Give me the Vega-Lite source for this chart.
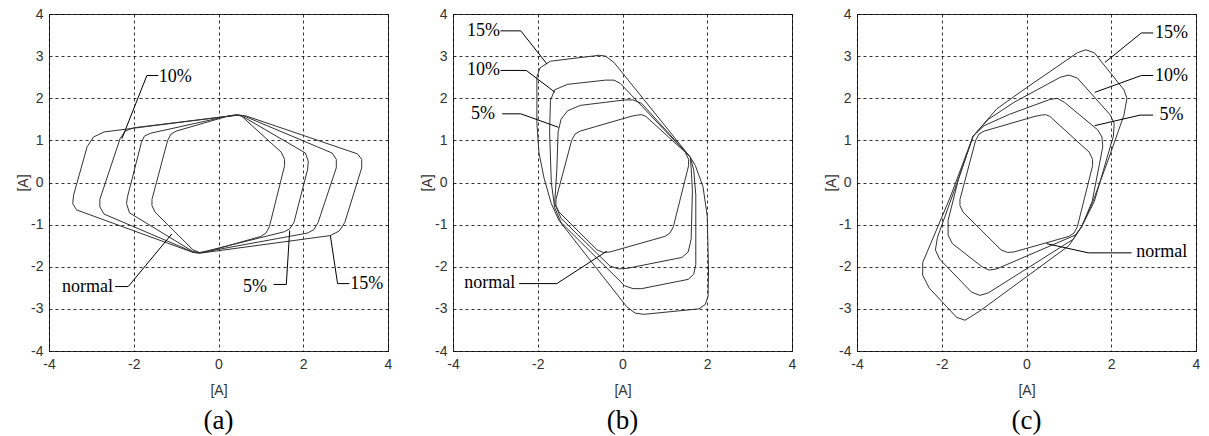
{
  "$schema": "https://vega.github.io/schema/vega-lite/v6.json",
  "background": "white",
  "padding": {"left": 16, "top": 6, "right": 4, "bottom": 0},
  "spacing": 65,
  "bounds": "flush",
  "config": {
    "view": {"stroke": "#333", "strokeWidth": 1},
    "axis": {"labelFont": "Liberation Sans", "labelFontSize": 14, "labelColor": "#333", "titleFont": "Liberation Sans", "titleFontSize": 14, "titleFontWeight": "normal", "titleColor": "#333", "domain": false, "ticks": false, "tickSize": 0, "grid": true, "gridColor": "#000", "gridDash": [3, 3], "gridOpacity": 1, "gridWidth": 0.8, "labelFlush": false, "labelExpr": "'' + datum.value"},
    "axisY": {"titlePadding": 0, "labelPadding": 6},
    "axisX": {"titlePadding": 12, "labelPadding": 6},
    "title": {"font": "Liberation Serif", "fontSize": 27, "fontWeight": "normal", "color": "#000", "orient": "bottom", "offset": 11, "anchor": "middle"}
  },
  "datasets": {
    "loops": [
      {"panel":"a","series":"normal","ord":1,"x":0.35,"y":1.6},{"panel":"a","series":"normal","ord":2,"x":0.2,"y":1.57},{"panel":"a","series":"normal","ord":3,"x":-1.0,"y":1.22},{"panel":"a","series":"normal","ord":4,"x":-1.12,"y":1.15},{"panel":"a","series":"normal","ord":5,"x":-1.2,"y":1.0},{"panel":"a","series":"normal","ord":6,"x":-1.57,"y":-0.4},{"panel":"a","series":"normal","ord":7,"x":-1.57,"y":-0.55},{"panel":"a","series":"normal","ord":8,"x":-1.5,"y":-0.7},{"panel":"a","series":"normal","ord":9,"x":-0.6,"y":-1.6},{"panel":"a","series":"normal","ord":10,"x":-0.45,"y":-1.66},{"panel":"a","series":"normal","ord":11,"x":-0.3,"y":-1.65},{"panel":"a","series":"normal","ord":12,"x":1.0,"y":-1.28},{"panel":"a","series":"normal","ord":13,"x":1.12,"y":-1.2},{"panel":"a","series":"normal","ord":14,"x":1.2,"y":-1.05},{"panel":"a","series":"normal","ord":15,"x":1.56,"y":0.4},{"panel":"a","series":"normal","ord":16,"x":1.56,"y":0.55},{"panel":"a","series":"normal","ord":17,"x":1.48,"y":0.72},{"panel":"a","series":"normal","ord":18,"x":0.55,"y":1.57},{"panel":"a","series":"normal","ord":19,"x":0.45,"y":1.61},{"panel":"a","series":"normal","ord":20,"x":0.35,"y":1.6},
      {"panel":"a","series":"5%","ord":1,"x":0.4,"y":1.6},{"panel":"a","series":"5%","ord":2,"x":0.2,"y":1.57},{"panel":"a","series":"5%","ord":3,"x":-1.6,"y":1.17},{"panel":"a","series":"5%","ord":4,"x":-1.75,"y":1.1},{"panel":"a","series":"5%","ord":5,"x":-1.82,"y":0.95},{"panel":"a","series":"5%","ord":6,"x":-2.15,"y":-0.35},{"panel":"a","series":"5%","ord":7,"x":-2.17,"y":-0.5},{"panel":"a","series":"5%","ord":8,"x":-2.1,"y":-0.72},{"panel":"a","series":"5%","ord":9,"x":-0.6,"y":-1.64},{"panel":"a","series":"5%","ord":10,"x":-0.45,"y":-1.67},{"panel":"a","series":"5%","ord":11,"x":1.55,"y":-1.17},{"panel":"a","series":"5%","ord":12,"x":1.68,"y":-1.1},{"panel":"a","series":"5%","ord":13,"x":1.78,"y":-0.95},{"panel":"a","series":"5%","ord":14,"x":2.1,"y":0.3},{"panel":"a","series":"5%","ord":15,"x":2.12,"y":0.5},{"panel":"a","series":"5%","ord":16,"x":2.05,"y":0.7},{"panel":"a","series":"5%","ord":17,"x":0.55,"y":1.58},{"panel":"a","series":"5%","ord":18,"x":0.4,"y":1.6},
      {"panel":"a","series":"10%","ord":1,"x":0.45,"y":1.6},{"panel":"a","series":"10%","ord":2,"x":0.2,"y":1.57},{"panel":"a","series":"10%","ord":3,"x":-2.0,"y":1.3},{"panel":"a","series":"10%","ord":4,"x":-2.2,"y":1.22},{"panel":"a","series":"10%","ord":5,"x":-2.32,"y":1.05},{"panel":"a","series":"10%","ord":6,"x":-2.8,"y":-0.4},{"panel":"a","series":"10%","ord":7,"x":-2.8,"y":-0.58},{"panel":"a","series":"10%","ord":8,"x":-2.7,"y":-0.75},{"panel":"a","series":"10%","ord":9,"x":-0.6,"y":-1.65},{"panel":"a","series":"10%","ord":10,"x":-0.45,"y":-1.67},{"panel":"a","series":"10%","ord":11,"x":2.1,"y":-1.2},{"panel":"a","series":"10%","ord":12,"x":2.25,"y":-1.12},{"panel":"a","series":"10%","ord":13,"x":2.35,"y":-0.95},{"panel":"a","series":"10%","ord":14,"x":2.78,"y":0.35},{"panel":"a","series":"10%","ord":15,"x":2.78,"y":0.55},{"panel":"a","series":"10%","ord":16,"x":2.68,"y":0.7},{"panel":"a","series":"10%","ord":17,"x":0.6,"y":1.58},{"panel":"a","series":"10%","ord":18,"x":0.45,"y":1.6},
      {"panel":"a","series":"15%","ord":1,"x":0.5,"y":1.6},{"panel":"a","series":"15%","ord":2,"x":0.2,"y":1.57},{"panel":"a","series":"15%","ord":3,"x":-2.7,"y":1.2},{"panel":"a","series":"15%","ord":4,"x":-2.95,"y":1.08},{"panel":"a","series":"15%","ord":5,"x":-3.1,"y":0.85},{"panel":"a","series":"15%","ord":6,"x":-3.42,"y":-0.3},{"panel":"a","series":"15%","ord":7,"x":-3.44,"y":-0.5},{"panel":"a","series":"15%","ord":8,"x":-3.35,"y":-0.65},{"panel":"a","series":"15%","ord":9,"x":-0.6,"y":-1.66},{"panel":"a","series":"15%","ord":10,"x":-0.45,"y":-1.68},{"panel":"a","series":"15%","ord":11,"x":2.64,"y":-1.26},{"panel":"a","series":"15%","ord":12,"x":2.85,"y":-1.15},{"panel":"a","series":"15%","ord":13,"x":2.98,"y":-0.95},{"panel":"a","series":"15%","ord":14,"x":3.38,"y":0.35},{"panel":"a","series":"15%","ord":15,"x":3.38,"y":0.55},{"panel":"a","series":"15%","ord":16,"x":3.28,"y":0.68},{"panel":"a","series":"15%","ord":17,"x":0.65,"y":1.58},{"panel":"a","series":"15%","ord":18,"x":0.5,"y":1.6},

      {"panel":"b","series":"normal","ord":1,"x":0.35,"y":1.6},{"panel":"b","series":"normal","ord":2,"x":0.2,"y":1.57},{"panel":"b","series":"normal","ord":3,"x":-1.0,"y":1.22},{"panel":"b","series":"normal","ord":4,"x":-1.12,"y":1.15},{"panel":"b","series":"normal","ord":5,"x":-1.2,"y":1.0},{"panel":"b","series":"normal","ord":6,"x":-1.57,"y":-0.4},{"panel":"b","series":"normal","ord":7,"x":-1.57,"y":-0.55},{"panel":"b","series":"normal","ord":8,"x":-1.5,"y":-0.7},{"panel":"b","series":"normal","ord":9,"x":-0.6,"y":-1.6},{"panel":"b","series":"normal","ord":10,"x":-0.45,"y":-1.66},{"panel":"b","series":"normal","ord":11,"x":-0.3,"y":-1.65},{"panel":"b","series":"normal","ord":12,"x":1.0,"y":-1.28},{"panel":"b","series":"normal","ord":13,"x":1.12,"y":-1.2},{"panel":"b","series":"normal","ord":14,"x":1.2,"y":-1.05},{"panel":"b","series":"normal","ord":15,"x":1.56,"y":0.4},{"panel":"b","series":"normal","ord":16,"x":1.56,"y":0.55},{"panel":"b","series":"normal","ord":17,"x":1.48,"y":0.72},{"panel":"b","series":"normal","ord":18,"x":0.55,"y":1.57},{"panel":"b","series":"normal","ord":19,"x":0.45,"y":1.61},{"panel":"b","series":"normal","ord":20,"x":0.35,"y":1.6},
      {"panel":"b","series":"5%","ord":1,"x":1.6,"y":0.6},{"panel":"b","series":"5%","ord":2,"x":0.45,"y":1.88},{"panel":"b","series":"5%","ord":3,"x":0.25,"y":1.96},{"panel":"b","series":"5%","ord":4,"x":0.05,"y":1.96},{"panel":"b","series":"5%","ord":5,"x":-1.0,"y":1.83},{"panel":"b","series":"5%","ord":6,"x":-1.3,"y":1.7},{"panel":"b","series":"5%","ord":7,"x":-1.45,"y":1.5},{"panel":"b","series":"5%","ord":8,"x":-1.52,"y":1.2},{"panel":"b","series":"5%","ord":9,"x":-1.55,"y":0.3},{"panel":"b","series":"5%","ord":10,"x":-1.6,"y":-0.5},{"panel":"b","series":"5%","ord":11,"x":-1.45,"y":-0.85},{"panel":"b","series":"5%","ord":12,"x":-0.3,"y":-1.98},{"panel":"b","series":"5%","ord":13,"x":-0.1,"y":-2.05},{"panel":"b","series":"5%","ord":14,"x":0.1,"y":-2.04},{"panel":"b","series":"5%","ord":15,"x":1.4,"y":-1.78},{"panel":"b","series":"5%","ord":16,"x":1.55,"y":-1.65},{"panel":"b","series":"5%","ord":17,"x":1.62,"y":-1.35},{"panel":"b","series":"5%","ord":18,"x":1.65,"y":-0.2},{"panel":"b","series":"5%","ord":19,"x":1.62,"y":0.35},{"panel":"b","series":"5%","ord":20,"x":1.6,"y":0.6},
      {"panel":"b","series":"10%","ord":1,"x":1.6,"y":0.6},{"panel":"b","series":"10%","ord":2,"x":-0.05,"y":2.35},{"panel":"b","series":"10%","ord":3,"x":-0.2,"y":2.43},{"panel":"b","series":"10%","ord":4,"x":-0.4,"y":2.43},{"panel":"b","series":"10%","ord":5,"x":-1.3,"y":2.33},{"panel":"b","series":"10%","ord":6,"x":-1.6,"y":2.2},{"panel":"b","series":"10%","ord":7,"x":-1.7,"y":1.95},{"panel":"b","series":"10%","ord":8,"x":-1.72,"y":1.2},{"panel":"b","series":"10%","ord":9,"x":-1.68,"y":0.0},{"panel":"b","series":"10%","ord":10,"x":-1.6,"y":-0.6},{"panel":"b","series":"10%","ord":11,"x":-1.45,"y":-0.95},{"panel":"b","series":"10%","ord":12,"x":0.05,"y":-2.45},{"panel":"b","series":"10%","ord":13,"x":0.25,"y":-2.52},{"panel":"b","series":"10%","ord":14,"x":0.45,"y":-2.52},{"panel":"b","series":"10%","ord":15,"x":1.55,"y":-2.3},{"panel":"b","series":"10%","ord":16,"x":1.68,"y":-2.18},{"panel":"b","series":"10%","ord":17,"x":1.73,"y":-1.95},{"panel":"b","series":"10%","ord":18,"x":1.73,"y":-0.3},{"panel":"b","series":"10%","ord":19,"x":1.68,"y":0.3},{"panel":"b","series":"10%","ord":20,"x":1.6,"y":0.6},
      {"panel":"b","series":"15%","ord":1,"x":1.6,"y":0.6},{"panel":"b","series":"15%","ord":2,"x":-0.2,"y":2.85},{"panel":"b","series":"15%","ord":3,"x":-0.4,"y":3.0},{"panel":"b","series":"15%","ord":4,"x":-0.55,"y":3.02},{"panel":"b","series":"15%","ord":5,"x":-1.7,"y":2.88},{"panel":"b","series":"15%","ord":6,"x":-1.95,"y":2.72},{"panel":"b","series":"15%","ord":7,"x":-2.02,"y":2.5},{"panel":"b","series":"15%","ord":8,"x":-2.02,"y":1.4},{"panel":"b","series":"15%","ord":9,"x":-1.97,"y":0.7},{"panel":"b","series":"15%","ord":10,"x":-1.85,"y":0.1},{"panel":"b","series":"15%","ord":11,"x":-1.68,"y":-0.5},{"panel":"b","series":"15%","ord":12,"x":-1.5,"y":-0.9},{"panel":"b","series":"15%","ord":13,"x":0.1,"y":-2.95},{"panel":"b","series":"15%","ord":14,"x":0.3,"y":-3.1},{"panel":"b","series":"15%","ord":15,"x":0.5,"y":-3.13},{"panel":"b","series":"15%","ord":16,"x":1.8,"y":-3.0},{"panel":"b","series":"15%","ord":17,"x":1.95,"y":-2.9},{"panel":"b","series":"15%","ord":18,"x":2.02,"y":-2.7},{"panel":"b","series":"15%","ord":19,"x":2.03,"y":-2.1},{"panel":"b","series":"15%","ord":20,"x":2.0,"y":-0.8},{"panel":"b","series":"15%","ord":21,"x":1.9,"y":-0.1},{"panel":"b","series":"15%","ord":22,"x":1.72,"y":0.4},{"panel":"b","series":"15%","ord":23,"x":1.6,"y":0.6},

      {"panel":"c","series":"normal","ord":1,"x":0.35,"y":1.6},{"panel":"c","series":"normal","ord":2,"x":0.2,"y":1.57},{"panel":"c","series":"normal","ord":3,"x":-1.0,"y":1.22},{"panel":"c","series":"normal","ord":4,"x":-1.12,"y":1.15},{"panel":"c","series":"normal","ord":5,"x":-1.2,"y":1.0},{"panel":"c","series":"normal","ord":6,"x":-1.57,"y":-0.4},{"panel":"c","series":"normal","ord":7,"x":-1.57,"y":-0.55},{"panel":"c","series":"normal","ord":8,"x":-1.5,"y":-0.7},{"panel":"c","series":"normal","ord":9,"x":-0.6,"y":-1.6},{"panel":"c","series":"normal","ord":10,"x":-0.45,"y":-1.66},{"panel":"c","series":"normal","ord":11,"x":-0.3,"y":-1.65},{"panel":"c","series":"normal","ord":12,"x":1.0,"y":-1.28},{"panel":"c","series":"normal","ord":13,"x":1.12,"y":-1.2},{"panel":"c","series":"normal","ord":14,"x":1.2,"y":-1.05},{"panel":"c","series":"normal","ord":15,"x":1.56,"y":0.4},{"panel":"c","series":"normal","ord":16,"x":1.56,"y":0.55},{"panel":"c","series":"normal","ord":17,"x":1.48,"y":0.72},{"panel":"c","series":"normal","ord":18,"x":0.55,"y":1.57},{"panel":"c","series":"normal","ord":19,"x":0.45,"y":1.61},{"panel":"c","series":"normal","ord":20,"x":0.35,"y":1.6},
      {"panel":"c","series":"5%","ord":1,"x":-1.26,"y":1.1},{"panel":"c","series":"5%","ord":2,"x":-1.0,"y":1.35},{"panel":"c","series":"5%","ord":3,"x":-0.4,"y":1.62},{"panel":"c","series":"5%","ord":4,"x":0.55,"y":1.97},{"panel":"c","series":"5%","ord":5,"x":0.72,"y":2.0},{"panel":"c","series":"5%","ord":6,"x":0.9,"y":1.9},{"panel":"c","series":"5%","ord":7,"x":1.68,"y":1.25},{"panel":"c","series":"5%","ord":8,"x":1.78,"y":1.08},{"panel":"c","series":"5%","ord":9,"x":1.8,"y":0.85},{"panel":"c","series":"5%","ord":10,"x":1.55,"y":-0.45},{"panel":"c","series":"5%","ord":11,"x":1.3,"y":-1.05},{"panel":"c","series":"5%","ord":12,"x":1.15,"y":-1.25},{"panel":"c","series":"5%","ord":13,"x":-0.7,"y":-2.05},{"panel":"c","series":"5%","ord":14,"x":-0.88,"y":-2.08},{"panel":"c","series":"5%","ord":15,"x":-1.05,"y":-2.0},{"panel":"c","series":"5%","ord":16,"x":-1.75,"y":-1.45},{"panel":"c","series":"5%","ord":17,"x":-1.85,"y":-1.25},{"panel":"c","series":"5%","ord":18,"x":-1.85,"y":-0.9},{"panel":"c","series":"5%","ord":19,"x":-1.6,"y":0.1},{"panel":"c","series":"5%","ord":20,"x":-1.26,"y":1.1},
      {"panel":"c","series":"10%","ord":1,"x":-1.26,"y":1.1},{"panel":"c","series":"10%","ord":2,"x":-0.9,"y":1.5},{"panel":"c","series":"10%","ord":3,"x":-0.3,"y":1.9},{"panel":"c","series":"10%","ord":4,"x":0.8,"y":2.5},{"panel":"c","series":"10%","ord":5,"x":1.0,"y":2.55},{"panel":"c","series":"10%","ord":6,"x":1.2,"y":2.48},{"panel":"c","series":"10%","ord":7,"x":1.98,"y":1.6},{"panel":"c","series":"10%","ord":8,"x":2.07,"y":1.4},{"panel":"c","series":"10%","ord":9,"x":2.05,"y":1.1},{"panel":"c","series":"10%","ord":10,"x":1.6,"y":-0.45},{"panel":"c","series":"10%","ord":11,"x":1.3,"y":-1.05},{"panel":"c","series":"10%","ord":12,"x":1.1,"y":-1.35},{"panel":"c","series":"10%","ord":13,"x":-0.9,"y":-2.62},{"panel":"c","series":"10%","ord":14,"x":-1.1,"y":-2.68},{"panel":"c","series":"10%","ord":15,"x":-1.3,"y":-2.6},{"panel":"c","series":"10%","ord":16,"x":-2.05,"y":-1.82},{"panel":"c","series":"10%","ord":17,"x":-2.15,"y":-1.6},{"panel":"c","series":"10%","ord":18,"x":-2.1,"y":-1.3},{"panel":"c","series":"10%","ord":19,"x":-1.6,"y":0.1},{"panel":"c","series":"10%","ord":20,"x":-1.26,"y":1.1},
      {"panel":"c","series":"15%","ord":1,"x":-1.26,"y":1.1},{"panel":"c","series":"15%","ord":2,"x":-0.7,"y":1.75},{"panel":"c","series":"15%","ord":3,"x":0.0,"y":2.25},{"panel":"c","series":"15%","ord":4,"x":1.2,"y":3.08},{"panel":"c","series":"15%","ord":5,"x":1.4,"y":3.15},{"panel":"c","series":"15%","ord":6,"x":1.6,"y":3.08},{"panel":"c","series":"15%","ord":7,"x":2.3,"y":2.2},{"panel":"c","series":"15%","ord":8,"x":2.37,"y":2.0},{"panel":"c","series":"15%","ord":9,"x":2.3,"y":1.6},{"panel":"c","series":"15%","ord":10,"x":1.95,"y":0.6},{"panel":"c","series":"15%","ord":11,"x":1.55,"y":-0.5},{"panel":"c","series":"15%","ord":12,"x":1.3,"y":-1.05},{"panel":"c","series":"15%","ord":13,"x":1.0,"y":-1.5},{"panel":"c","series":"15%","ord":14,"x":-1.1,"y":-3.05},{"panel":"c","series":"15%","ord":15,"x":-1.45,"y":-3.27},{"panel":"c","series":"15%","ord":16,"x":-1.65,"y":-3.2},{"panel":"c","series":"15%","ord":17,"x":-2.3,"y":-2.5},{"panel":"c","series":"15%","ord":18,"x":-2.45,"y":-2.2},{"panel":"c","series":"15%","ord":19,"x":-2.45,"y":-1.9},{"panel":"c","series":"15%","ord":20,"x":-1.8,"y":-0.35},{"panel":"c","series":"15%","ord":21,"x":-1.26,"y":1.1}
    ],
    "leaders": [
      {"panel":"a","series":"10%","ord":1,"x":-1.42,"y":2.54},{"panel":"a","series":"10%","ord":2,"x":-1.69,"y":2.54},{"panel":"a","series":"10%","ord":3,"x":-2.28,"y":1.04},
      {"panel":"a","series":"normal","ord":1,"x":-2.44,"y":-2.47},{"panel":"a","series":"normal","ord":2,"x":-2.13,"y":-2.47},{"panel":"a","series":"normal","ord":3,"x":-1.1,"y":-1.22},
      {"panel":"a","series":"5%","ord":1,"x":1.3,"y":-2.42},{"panel":"a","series":"5%","ord":2,"x":1.6,"y":-2.42},{"panel":"a","series":"5%","ord":3,"x":1.68,"y":-1.14},
      {"panel":"a","series":"15%","ord":1,"x":3.09,"y":-2.4},{"panel":"a","series":"15%","ord":2,"x":2.81,"y":-2.4},{"panel":"a","series":"15%","ord":3,"x":2.64,"y":-1.26},
      {"panel":"b","series":"15%","ord":1,"x":-2.88,"y":3.6},{"panel":"b","series":"15%","ord":2,"x":-2.4,"y":3.6},{"panel":"b","series":"15%","ord":3,"x":-1.78,"y":2.81},
      {"panel":"b","series":"10%","ord":1,"x":-2.88,"y":2.66},{"panel":"b","series":"10%","ord":2,"x":-2.27,"y":2.66},{"panel":"b","series":"10%","ord":3,"x":-1.59,"y":2.14},
      {"panel":"b","series":"5%","ord":1,"x":-2.84,"y":1.63},{"panel":"b","series":"5%","ord":2,"x":-2.4,"y":1.63},{"panel":"b","series":"5%","ord":3,"x":-1.51,"y":1.31},
      {"panel":"b","series":"normal","ord":1,"x":-2.44,"y":-2.4},{"panel":"b","series":"normal","ord":2,"x":-1.55,"y":-2.4},{"panel":"b","series":"normal","ord":3,"x":-0.37,"y":-1.63},
      {"panel":"c","series":"15%","ord":1,"x":2.99,"y":3.55},{"panel":"c","series":"15%","ord":2,"x":2.71,"y":3.55},{"panel":"c","series":"15%","ord":3,"x":1.85,"y":2.85},
      {"panel":"c","series":"10%","ord":1,"x":2.99,"y":2.54},{"panel":"c","series":"10%","ord":2,"x":2.71,"y":2.54},{"panel":"c","series":"10%","ord":3,"x":1.61,"y":2.14},
      {"panel":"c","series":"5%","ord":1,"x":2.99,"y":1.6},{"panel":"c","series":"5%","ord":2,"x":2.68,"y":1.6},{"panel":"c","series":"5%","ord":3,"x":1.61,"y":1.35},
      {"panel":"c","series":"normal","ord":1,"x":2.48,"y":-1.67},{"panel":"c","series":"normal","ord":2,"x":1.46,"y":-1.67},{"panel":"c","series":"normal","ord":3,"x":0.47,"y":-1.45}
    ],
    "labels": [
      {"panel":"a","label":"10%","x":-1.02,"y":2.51},{"panel":"a","label":"normal","x":-3.09,"y":-2.47},{"panel":"a","label":"5%","x":0.86,"y":-2.47},{"panel":"a","label":"15%","x":3.5,"y":-2.42},
      {"panel":"b","label":"15%","x":-3.28,"y":3.6},{"panel":"b","label":"10%","x":-3.28,"y":2.66},{"panel":"b","label":"5%","x":-3.29,"y":1.63},{"panel":"b","label":"normal","x":-3.13,"y":-2.39},
      {"panel":"c","label":"15%","x":3.42,"y":3.55},{"panel":"c","label":"10%","x":3.42,"y":2.54},{"panel":"c","label":"5%","x":3.42,"y":1.6},{"panel":"c","label":"normal","x":3.19,"y":-1.65}
    ]
  },
  "hconcat": [
    {
      "width": 339, "height": 337,
      "title": {"text": "(a)"},
      "layer": [
        {"data": {"name": "loops"}, "transform": [{"filter": "datum.panel == 'a'"}],
         "mark": {"type": "line", "stroke": "#333", "strokeWidth": 1, "clip": true},
         "encoding": {
           "x": {"field": "x", "type": "quantitative", "scale": {"domain": [-4, 4], "nice": false}, "axis": {"values": [-4, -2, 0, 2, 4], "title": "[A]"}},
           "y": {"field": "y", "type": "quantitative", "scale": {"domain": [-4, 4], "nice": false}, "axis": {"values": [-4, -3, -2, -1, 0, 1, 2, 3, 4], "title": "[A]"}},
           "detail": {"field": "series"}, "order": {"field": "ord", "type": "quantitative"}}},
        {"data": {"name": "leaders"}, "transform": [{"filter": "datum.panel == 'a'"}],
         "mark": {"type": "line", "stroke": "#000", "strokeWidth": 1},
         "encoding": {"x": {"field": "x", "type": "quantitative"}, "y": {"field": "y", "type": "quantitative"}, "detail": {"field": "series"}, "order": {"field": "ord", "type": "quantitative"}}},
        {"data": {"name": "labels"}, "transform": [{"filter": "datum.panel == 'a'"}],
         "mark": {"type": "text", "font": "Liberation Serif", "fontSize": 18, "color": "#000", "align": "center", "baseline": "middle"},
         "encoding": {"x": {"field": "x", "type": "quantitative"}, "y": {"field": "y", "type": "quantitative"}, "text": {"field": "label"}}}
      ]
    },
    {
      "width": 339, "height": 337,
      "title": {"text": "(b)"},
      "layer": [
        {"data": {"name": "loops"}, "transform": [{"filter": "datum.panel == 'b'"}],
         "mark": {"type": "line", "stroke": "#333", "strokeWidth": 1, "clip": true},
         "encoding": {
           "x": {"field": "x", "type": "quantitative", "scale": {"domain": [-4, 4], "nice": false}, "axis": {"values": [-4, -2, 0, 2, 4], "title": "[A]"}},
           "y": {"field": "y", "type": "quantitative", "scale": {"domain": [-4, 4], "nice": false}, "axis": {"values": [-4, -3, -2, -1, 0, 1, 2, 3, 4], "title": "[A]"}},
           "detail": {"field": "series"}, "order": {"field": "ord", "type": "quantitative"}}},
        {"data": {"name": "leaders"}, "transform": [{"filter": "datum.panel == 'b'"}],
         "mark": {"type": "line", "stroke": "#000", "strokeWidth": 1},
         "encoding": {"x": {"field": "x", "type": "quantitative"}, "y": {"field": "y", "type": "quantitative"}, "detail": {"field": "series"}, "order": {"field": "ord", "type": "quantitative"}}},
        {"data": {"name": "labels"}, "transform": [{"filter": "datum.panel == 'b'"}],
         "mark": {"type": "text", "font": "Liberation Serif", "fontSize": 18, "color": "#000", "align": "center", "baseline": "middle"},
         "encoding": {"x": {"field": "x", "type": "quantitative"}, "y": {"field": "y", "type": "quantitative"}, "text": {"field": "label"}}}
      ]
    },
    {
      "width": 339, "height": 337,
      "title": {"text": "(c)"},
      "layer": [
        {"data": {"name": "loops"}, "transform": [{"filter": "datum.panel == 'c'"}],
         "mark": {"type": "line", "stroke": "#333", "strokeWidth": 1, "clip": true},
         "encoding": {
           "x": {"field": "x", "type": "quantitative", "scale": {"domain": [-4, 4], "nice": false}, "axis": {"values": [-4, -2, 0, 2, 4], "title": "[A]"}},
           "y": {"field": "y", "type": "quantitative", "scale": {"domain": [-4, 4], "nice": false}, "axis": {"values": [-4, -3, -2, -1, 0, 1, 2, 3, 4], "title": "[A]"}},
           "detail": {"field": "series"}, "order": {"field": "ord", "type": "quantitative"}}},
        {"data": {"name": "leaders"}, "transform": [{"filter": "datum.panel == 'c'"}],
         "mark": {"type": "line", "stroke": "#000", "strokeWidth": 1},
         "encoding": {"x": {"field": "x", "type": "quantitative"}, "y": {"field": "y", "type": "quantitative"}, "detail": {"field": "series"}, "order": {"field": "ord", "type": "quantitative"}}},
        {"data": {"name": "labels"}, "transform": [{"filter": "datum.panel == 'c'"}],
         "mark": {"type": "text", "font": "Liberation Serif", "fontSize": 18, "color": "#000", "align": "center", "baseline": "middle"},
         "encoding": {"x": {"field": "x", "type": "quantitative"}, "y": {"field": "y", "type": "quantitative"}, "text": {"field": "label"}}}
      ]
    }
  ]
}
